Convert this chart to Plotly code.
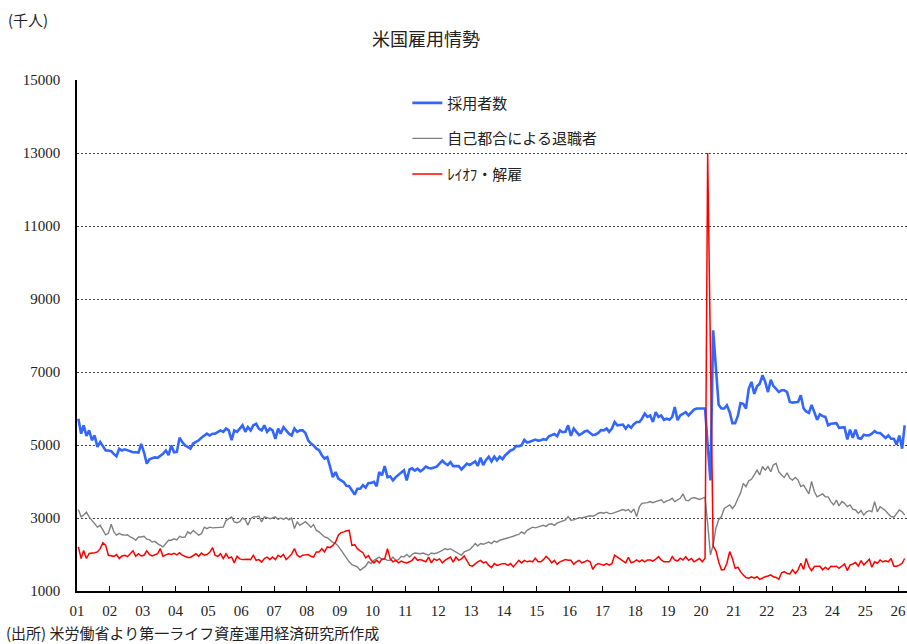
import plotly.graph_objects as go

# ---- data (thousand persons, monthly, Jan 2001 - Mar 2026) ----
start_year = 2001
year_labels = ["01", "02", "03", "04", "05", "06", "07", "08", "09", "10", "11", "12", "13",
               "14", "15", "16", "17", "18", "19", "20", "21", "22", "23", "24", "25", "26"]

hires = [
    5720, 5310, 5540, 5250, 5400, 5130, 5260, 4950, 5080, 4950, 4850, 4850,  # 2001
    4830, 4750, 4690, 4900, 4850, 4880, 4850, 4830, 4800, 4800, 4790, 5030,  # 2002
    4800, 4490, 4600, 4640, 4660, 4650, 4700, 4760, 4850, 4720, 4990, 4800,  # 2003
    4810, 5200, 5080, 4990, 4950, 4900, 5040, 5080, 5130, 5200, 5260, 5310,  # 2004
    5260, 5310, 5310, 5360, 5400, 5360, 5450, 5400, 5130, 5400, 5360, 5450,  # 2005
    5540, 5360, 5490, 5400, 5540, 5580, 5450, 5400, 5540, 5360, 5450, 5400,  # 2006
    5170, 5450, 5310, 5490, 5400, 5310, 5260, 5450, 5360, 5400, 5400, 5330,  # 2007
    5130, 5040, 4990, 4900, 4860, 4720, 4630, 4670, 4400, 4120, 4260, 4080,  # 2008
    4030, 3980, 3880, 3870, 3760, 3640, 3800, 3800, 3900, 3830, 3960, 3960,  # 2009
    3990, 3870, 4260, 4170, 4420, 4120, 4140, 4030, 4120, 4190, 4240, 4310,  # 2010
    4030, 4330, 4360, 4300, 4350, 4280, 4330, 4410, 4370, 4360, 4380, 4410,  # 2011
    4490, 4570, 4500, 4450, 4530, 4420, 4420, 4420, 4330, 4420, 4490, 4450,  # 2012
    4510, 4550, 4430, 4650, 4450, 4590, 4680, 4550, 4680, 4580, 4680, 4610,  # 2013
    4720, 4790, 4850, 4880, 4970, 4970, 4990, 5140, 5070, 5090, 5130, 5150,  # 2014
    5120, 5130, 5160, 5140, 5240, 5270, 5300, 5240, 5400, 5350, 5360, 5540,  # 2015
    5250, 5450, 5350, 5270, 5310, 5370, 5390, 5330, 5270, 5290, 5330, 5410,  # 2016
    5400, 5450, 5360, 5450, 5630, 5540, 5560, 5560, 5450, 5540, 5470, 5570,  # 2017
    5630, 5630, 5720, 5860, 5770, 5810, 5630, 5900, 5770, 5810, 5690, 5720,  # 2018
    5690, 5770, 6040, 5680, 5810, 5860, 5900, 5810, 5880, 5970, 6000, 6000,  # 2019
    5990, 6000, 5000, 4030, 8140, 7000, 6100, 6000, 6000, 6090, 5900, 5600,  # 2020
    5600, 5810, 6150, 6130, 6000, 6540, 6730, 6400, 6610, 6680, 6910, 6730,  # 2021
    6450, 6790, 6620, 6540, 6450, 6500, 6500, 6450, 6180, 6160, 6180, 6180,  # 2022
    6360, 6000, 5920, 5880, 6100, 5900, 5690, 5840, 5790, 5770, 5540, 5580,  # 2023
    5600, 5600, 5470, 5470, 5490, 5150, 5420, 5200, 5420, 5190, 5170, 5280,  # 2024
    5260, 5270, 5310, 5380, 5330, 5330, 5260, 5190, 5260, 5170, 5170, 5010,  # 2025
    5260, 4900, 5540,                                                        # 2026
]

quits = [
    3230, 3030, 3080, 3160, 3030, 2940, 2850, 2750, 2800, 2660, 2540, 2580,  # 2001
    2830, 2620, 2530, 2580, 2540, 2530, 2540, 2480, 2450, 2390, 2480, 2480,  # 2002
    2500, 2420, 2410, 2340, 2360, 2300, 2260, 2210, 2300, 2390, 2390, 2430,  # 2003
    2400, 2500, 2470, 2480, 2620, 2570, 2660, 2600, 2530, 2570, 2750, 2710,  # 2004
    2750, 2730, 2730, 2750, 2730, 2750, 2930, 2980, 3030, 2890, 2870, 2900,  # 2005
    3000, 2950, 2800, 2980, 3030, 3030, 3050, 2890, 3030, 3010, 2980, 3000,  # 2006
    3030, 2960, 3000, 2960, 3010, 2950, 3000, 2710, 2890, 2800, 2850, 2900,  # 2007
    2830, 2750, 2820, 2660, 2620, 2540, 2480, 2460, 2400, 2330, 2300, 2230,  # 2008
    2120, 2000, 1900, 1800, 1720, 1700, 1660, 1570, 1620, 1680, 1800, 1750,  # 2009
    1840, 1880, 1930, 1860, 1880, 1840, 1840, 1930, 1840, 1860, 1950, 1930,  # 2010
    2000, 1930, 2000, 2040, 2020, 2020, 2040, 2000, 1980, 2040, 2020, 2040,  # 2011
    2070, 2110, 2160, 2130, 2160, 2110, 2070, 2020, 1980, 2070, 2100, 2130,  # 2012
    2210, 2300, 2230, 2300, 2280, 2320, 2340, 2300, 2370, 2340, 2390, 2410,  # 2013
    2430, 2460, 2480, 2500, 2530, 2550, 2620, 2570, 2660, 2710, 2750, 2730,  # 2014
    2750, 2770, 2800, 2770, 2830, 2840, 2800, 2860, 2890, 2940, 2950, 3040,  # 2015
    2940, 2950, 2970, 3010, 3000, 3030, 3040, 3060, 3050, 3080, 3130, 3150,  # 2016
    3130, 3160, 3120, 3120, 3150, 3180, 3190, 3230, 3200, 3230, 3150, 3250,  # 2017
    3040, 3310, 3400, 3400, 3420, 3450, 3420, 3450, 3470, 3500, 3420, 3470,  # 2018
    3490, 3540, 3450, 3490, 3540, 3660, 3490, 3470, 3540, 3560, 3540, 3510,  # 2019
    3540, 3570, 2850, 1990, 2260, 2720, 2950, 3040, 3260, 3310, 3360, 3260,  # 2020
    3360, 3540, 3680, 3950, 3860, 4020, 4060, 4180, 4310, 4180, 4410, 4310,  # 2021
    4410, 4270, 4450, 4500, 4270, 4180, 4110, 4240, 4090, 4040, 4110, 4040,  # 2022
    3860, 3900, 3790, 3660, 4000, 3720, 3580, 3630, 3660, 3580, 3580, 3450,  # 2023
    3360, 3490, 3330, 3450, 3400, 3310, 3360, 3240, 3220, 3130, 3200, 3080,  # 2024
    3170, 3200, 3170, 3450, 3170, 3310, 3260, 3200, 3110, 3040, 3020, 3130,  # 2025
    3220, 3170, 3080,                                                        # 2026
]

layoffs = [
    2210, 1890, 2110, 1890, 2030, 2030, 2050, 2070, 2160, 2320, 2250, 1980,  # 2001
    1970, 1950, 2000, 1890, 1960, 1980, 1940, 2030, 2100, 1950, 2020, 1960,  # 2002
    1980, 2100, 2000, 1960, 1980, 2020, 2160, 1950, 1990, 2020, 2000, 2030,  # 2003
    1990, 2050, 1980, 1940, 1920, 1920, 1960, 2020, 1950, 2040, 1980, 2000,  # 2004
    2060, 2190, 1980, 1950, 2020, 1890, 2020, 1900, 1930, 1770, 1950, 1880,  # 2005
    1860, 1870, 1870, 1860, 1980, 1840, 1860, 1790, 1890, 1930, 1860, 1930,  # 2006
    1860, 1980, 1930, 2000, 1860, 1930, 2010, 2160, 1980, 1930, 1980, 1990,  # 2007
    2000, 1950, 1930, 2070, 2070, 2160, 2070, 2210, 2190, 2250, 2340, 2530,  # 2008
    2600, 2620, 2650, 2660, 2250, 2270, 2160, 2100, 2050, 1910, 1970, 1840,  # 2009
    1770, 1840, 1770, 1880, 1880, 2160, 1880, 1800, 1840, 1770, 1820, 1790,  # 2010
    1770, 1800, 1840, 1930, 1840, 1860, 1840, 1800, 1930, 1770, 1880, 1840,  # 2011
    1880, 1770, 1840, 1880, 1930, 1790, 1930, 1840, 1880, 1960, 1840, 1700,  # 2012
    1680, 1750, 1800, 1840, 1770, 1800, 1700, 1640, 1750, 1700, 1730, 1750,  # 2013
    1750, 1700, 1750, 1660, 1750, 1840, 1770, 1840, 1800, 1820, 1800, 1900,  # 2014
    1800, 1800, 1860, 1950, 1880, 1770, 1840, 1730, 1800, 1840, 1860, 1840,  # 2015
    1840, 1730, 1800, 1840, 1770, 1800, 1840, 1800, 1590, 1710, 1750, 1730,  # 2016
    1710, 1750, 1710, 1750, 1980, 1930, 1880, 1840, 1770, 1920, 1770, 1800,  # 2017
    1850, 1800, 1850, 1800, 1850, 1850, 1820, 1870, 1940, 1850, 1800, 1800,  # 2018
    1800, 1940, 1850, 1820, 1900, 1850, 1940, 1840, 1890, 1800, 1850, 1890,  # 2019
    1800, 1900, 13000, 7700, 2230, 2100, 1800, 1580, 1590, 1760, 2080, 1890, # 2020
    1620, 1650, 1530, 1440, 1370, 1350, 1390, 1350, 1390, 1320, 1360, 1390,  # 2021
    1410, 1440, 1390, 1370, 1320, 1500, 1530, 1480, 1470, 1580, 1480, 1580,  # 2022
    1760, 1590, 1890, 1670, 1560, 1670, 1680, 1680, 1580, 1650, 1590, 1680,  # 2023
    1670, 1680, 1620, 1670, 1740, 1560, 1710, 1740, 1780, 1680, 1830, 1710,  # 2024
    1780, 1870, 1650, 1800, 1760, 1850, 1800, 1830, 1800, 1890, 1680, 1680,  # 2025
    1710, 1760, 1890,                                                        # 2026
]

series_names = ["採用者数", "自己都合による退職者", "ﾚｲｵﾌ・解雇"]
series_colors = ["#3366FF", "#808080", "#FF0000"]
series_widths = [2.6, 1.4, 1.5]

# month positions: centre of each month
months = [f"{start_year + i // 12}-{i % 12 + 1:02d}-16" for i in range(len(hires))]
tick_dates = [f"{start_year + k}-01-01" for k in range(len(year_labels))]

JP = "Noto Sans CJK JP"
NUM = "Liberation Serif"

fig = go.Figure()
for name, vals, col, w, grp in zip(series_names, [hires, quits, layoffs],
                                   series_colors, series_widths, ["a", "b", "c"]):
    fig.add_trace(go.Scatter(x=months, y=vals, mode="lines", name=name,
                             legendgroup=grp,
                             line=dict(color=col, width=w)))

fig.update_layout(
    width=907, height=644,
    margin=dict(l=77, r=0, t=80, b=53),
    paper_bgcolor="white", plot_bgcolor="white",
    showlegend=True,
    legend=dict(x=0.398, y=0.987, xanchor="left", yanchor="top",
                traceorder="grouped", tracegroupgap=13,
                font=dict(family=JP, size=15, color="#222"),
                bgcolor="rgba(0,0,0,0)"),
    font=dict(family=JP, color="#222"),
)

fig.update_xaxes(
    type="date",
    range=["2001-01-01", "2026-04-11"],
    tickmode="array", tickvals=tick_dates, ticktext=year_labels,
    ticks="inside", ticklen=5, tickwidth=1, tickcolor="black",
    showline=True, linecolor="black", linewidth=1.5,
    showgrid=False, zeroline=False,
    tickfont=dict(family=NUM, size=15, color="#222"),
    ticklabelstandoff=5,
)

fig.update_yaxes(
    range=[1000, 15000], tick0=1000, dtick=2000,
    tickformat="d",
    showline=True, linecolor="black", linewidth=1.5,
    showgrid=True, gridcolor="#444", griddash="2px,2px", gridwidth=1,
    zeroline=False, ticks="",
    tickfont=dict(family=NUM, size=15, color="#222"),
    ticklabelstandoff=12,
)

fig.add_annotation(text="米国雇用情勢", xref="paper", yref="paper",
                   x=(426 - 77) / 830, y=1 + (80 - 38) / 511,
                   xanchor="center", yanchor="middle", showarrow=False,
                   font=dict(family=JP, size=18, color="#222"))
fig.add_annotation(text="(千人)", xref="paper", yref="paper",
                   x=(6 - 77) / 830, y=1 + (80 - 19) / 511,
                   xanchor="left", yanchor="middle", showarrow=False,
                   font=dict(family=JP, size=15, color="#222"))
fig.add_annotation(text="(出所) 米労働省より第一ライフ資産運用経済研究所作成",
                   xref="paper", yref="paper",
                   x=(4 - 77) / 830, y=-(633 - 591) / 511,
                   xanchor="left", yanchor="middle", showarrow=False,
                   font=dict(family=JP, size=15, color="#222"))

fig.write_html("out.html",
               config={"displayModeBar": False},
               post_script="document.body.style.margin='0';document.body.style.overflow='hidden';")
